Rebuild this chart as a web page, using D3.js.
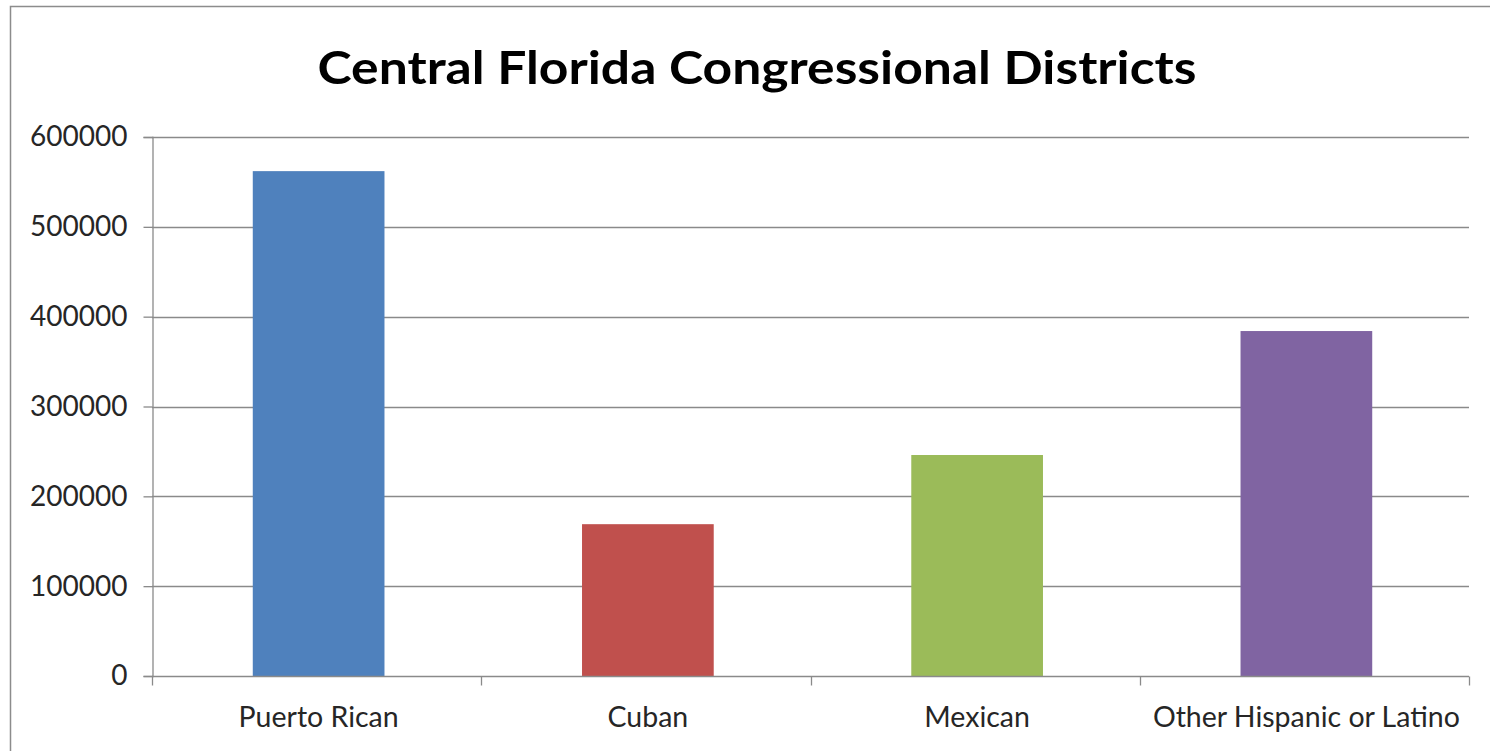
<!DOCTYPE html>
<html>
<head>
<meta charset="utf-8">
<script src="https://cdn.jsdelivr.net/npm/d3@7/dist/d3.min.js"></script>
<style>
  html, body { margin: 0; padding: 0; background: #fff; }
  svg { display: block; }
  text { font-family: Lato, "Open Sans", "Liberation Sans", sans-serif; fill: #262626; }
</style>
</head>
<body>
<svg id="chart" width="1490" height="751"></svg>
<script>
// Hispanic / Latino population by origin, Central Florida congressional districts
const categories = ["Puerto Rican", "Cuban", "Mexican", "Other Hispanic or Latino"];
const values = [562000, 169000, 246000, 384000];
const colors = ["#4F81BD", "#C0504D", "#9BBB59", "#8064A2"];
const yTicks = [0, 100000, 200000, 300000, 400000, 500000, 600000];
const title = "Central Florida Congressional Districts";

const W = 1490, H = 751;
const margin = { left: 152, right: 21, top: 137, bottom: 75 };
const svg = d3.select("#chart");

// outer frame
svg.append("rect")
  .attr("x", 10.5).attr("y", 6.5)
  .attr("width", W).attr("height", H)
  .attr("fill", "#fff").attr("stroke", "#8c8c8c").attr("stroke-width", 1.5);

const x = d3.scaleBand()
  .domain(categories)
  .range([margin.left, W - margin.right])
  .paddingInner(0.6)
  .paddingOuter(0.3);

const y = d3.scaleLinear()
  .domain([0, 600000])
  .range([H - margin.bottom, margin.top]);

// horizontal gridlines
svg.append("g")
  .selectAll("line")
  .data(yTicks.filter(d => d > 0))
  .join("line")
  .attr("x1", margin.left).attr("x2", W - margin.right)
  .attr("y1", d => Math.round(y(d)) + 0.5).attr("y2", d => Math.round(y(d)) + 0.5)
  .attr("stroke", "#8a8a8a").attr("stroke-width", 1.3);

// bars
svg.append("g")
  .selectAll("rect")
  .data(categories)
  .join("rect")
  .attr("x", d => x(d) + 2)
  .attr("width", x.bandwidth())
  .attr("y", (d, i) => y(values[i]))
  .attr("height", (d, i) => y(0) - y(values[i]))
  .attr("fill", (d, i) => colors[i]);

// y axis
const yAxis = svg.append("g")
  .attr("transform", `translate(${margin.left + 0.5},0)`)
  .call(d3.axisLeft(y).tickValues(yTicks).tickFormat(d3.format("d")).tickSize(9).tickPadding(16));
yAxis.select(".domain").attr("stroke", "#8a8a8a").attr("stroke-width", 1.3);
yAxis.selectAll(".tick line").attr("stroke", "#8a8a8a").attr("stroke-width", 1.3);
yAxis.selectAll(".tick text")
  .attr("font-size", 28).attr("fill", "#262626")
  .style("font-family", "Lato, 'Open Sans', sans-serif");

// x axis: line with ticks at category boundaries
const x0 = margin.left, x1 = W - margin.right;
const step = x.step();
const boundaries = d3.range(categories.length + 1).map(i => x0 + i * step);
const yBase = Math.round(y(0)) + 0.5;
svg.append("line")
  .attr("x1", x0).attr("x2", x1)
  .attr("y1", yBase).attr("y2", yBase)
  .attr("stroke", "#8a8a8a").attr("stroke-width", 1.3);
svg.append("g")
  .selectAll("line")
  .data(boundaries)
  .join("line")
  .attr("x1", d => Math.round(d) + 0.5).attr("x2", d => Math.round(d) + 0.5)
  .attr("y1", yBase).attr("y2", yBase + 9)
  .attr("stroke", "#8a8a8a").attr("stroke-width", 1.3);

svg.append("g")
  .selectAll("text")
  .data(categories)
  .join("text")
  .attr("x", d => x(d) + x.bandwidth() / 2 + 2)
  .attr("y", 727)
  .attr("text-anchor", "middle")
  .attr("font-size", 28.5)
  .text(d => d);

// title
svg.append("text")
  .attr("x", 757).attr("y", 84)
  .attr("text-anchor", "middle")
  .attr("font-size", 46)
  .attr("font-weight", 700)
  .attr("fill", "#000")
  .style("fill", "#000")
  .attr("textLength", 879)
  .attr("lengthAdjust", "spacingAndGlyphs")
  .text(title);
</script>
</body>
</html>
